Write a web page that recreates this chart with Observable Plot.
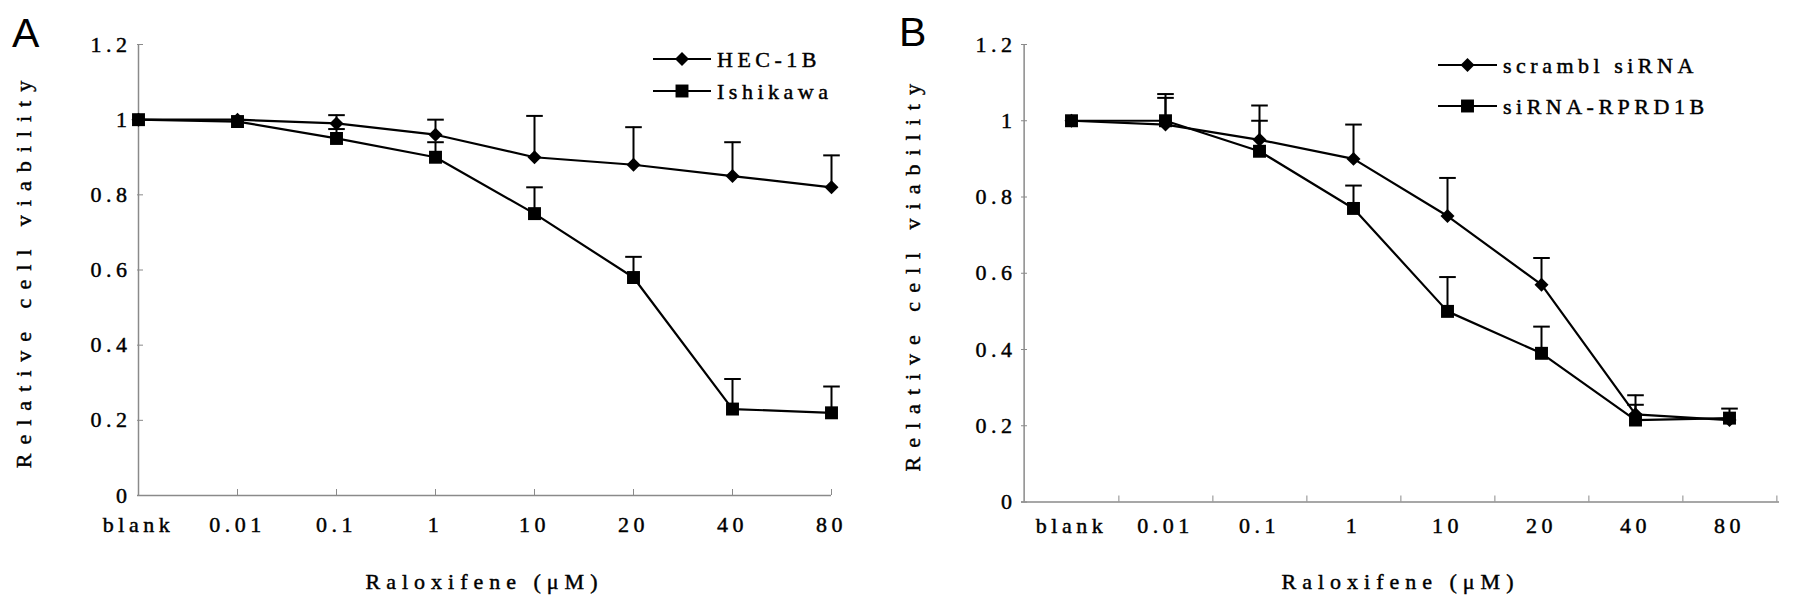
<!DOCTYPE html>
<html>
<head>
<meta charset="utf-8">
<script src="https://cdn.jsdelivr.net/npm/d3@7"></script>
<script src="https://cdn.jsdelivr.net/npm/@observablehq/plot@0.6"></script>
<style>
  body { margin: 0; background: #fff; }
  #figure { position: relative; width: 1795px; height: 609px; overflow: hidden; background: #fff; }
  #figure > div, #figure > svg { position: absolute; top: 0; }
  .panel svg text { letter-spacing: 4.5px; stroke: black; stroke-width: 0.45px; }
  .panel g[aria-label="y-axis label"] text { letter-spacing: 9px; }
  .panel g[aria-label="x-axis label"] text { letter-spacing: 6px; }
  #overlay { pointer-events: none; }
  #overlay .legend-text { font-family: "Liberation Serif", "DejaVu Serif", serif; font-size: 22px; letter-spacing: 4.5px; stroke: black; stroke-width: 0.45px; }
  #overlay .panel-letter { font-family: "Liberation Sans", Arial, sans-serif; font-size: 41px; }
</style>
</head>
<body>
<div id="figure">
  <div id="panel-a" class="panel" style="left:0px"></div>
  <div id="panel-b" class="panel" style="left:900px"></div>
</div>
<script>
// doses on the x axis (same for both panels)
const doses = ["blank", "0.01", "0.1", "1", "10", "20", "40", "80"];
const yTicks = [0, 0.2, 0.4, 0.6, 0.8, 1, 1.2];
const xTitle = "Raloxifene (μM)";
const yTitle = "Relative cell viability";

// panel A
const seriesA = ["HEC-1B", "Ishikawa"];
const hecMean = [1.00, 1.00, 0.99, 0.96, 0.90, 0.88, 0.85, 0.82];
const hecErr = [0, 0, 0.022, 0.04, 0.11, 0.10, 0.09, 0.085];
const ishMean = [1.00, 0.995, 0.95, 0.90, 0.75, 0.58, 0.23, 0.22];
const ishErr = [0, 0, 0.025, 0.04, 0.07, 0.055, 0.08, 0.07];

// panel B
const seriesB = ["scrambl siRNA", "siRNA-RPRD1B"];
const scrMean = [1.00, 0.99, 0.95, 0.90, 0.75, 0.57, 0.23, 0.215];
const scrErr = [0, 0.08, 0.09, 0.09, 0.10, 0.07, 0.05, 0];
const rpdMean = [1.00, 1.00, 0.92, 0.77, 0.50, 0.39, 0.215, 0.22];
const rpdErr = [0, 0.06, 0.08, 0.06, 0.09, 0.07, 0.04, 0.025];

const axisGray = "#8a8a8a";
const font = '"Liberation Serif", "DejaVu Serif", serif';

// flat horizontal stroke, used for the error bar caps
const capSymbol = {
    draw(context, size) {
        const w = Math.sqrt(size / Math.PI);
        context.moveTo(-w, 0);
        context.lineTo(w, 0);
    }
};

const toRows = (name, marker, means, errs) =>
    doses.map((dose, i) => ({series: name, marker, dose, v: means[i], err: errs[i], top: means[i] + errs[i]}));

const seriesMarks = (rows) => {
    const withErr = rows.filter(d => d.err > 0);
    return [
        Plot.line(rows, {x: "dose", y: "v", z: "series", stroke: "black", strokeWidth: 2.2}),
        Plot.ruleX(withErr, {x: "dose", y1: "v", y2: "top", stroke: "black", strokeWidth: 2}),
        Plot.dot(withErr, {x: "dose", y: "top", symbol: capSymbol, r: 8.3, stroke: "black", strokeWidth: 2, fill: "none"}),
        Plot.dot(rows.filter(d => d.marker === "diamond"), {x: "dose", y: "v", symbol: "diamond2", r: 6.3, fill: "black"}),
        Plot.dot(rows.filter(d => d.marker === "square"), {x: "dose", y: "v", symbol: "square", r: 7.3, fill: "black"})
    ];
};

const rowsA = [...toRows(seriesA[0], "diamond", hecMean, hecErr), ...toRows(seriesA[1], "square", ishMean, ishErr)];
const rowsB = [...toRows(seriesB[0], "diamond", scrMean, scrErr), ...toRows(seriesB[1], "square", rpdMean, rpdErr)];

const baseStyle = {fontFamily: font, fontSize: "22px", color: "black", background: "white", overflow: "visible"};

// Panel A: points sit on the tick marks, first one on the y axis
const chartA = Plot.plot({
    width: 900,
    height: 609,
    marginLeft: 137,
    marginRight: 69,
    marginTop: 44,
    marginBottom: 114,
    style: baseStyle,
    x: {type: "point", domain: doses, padding: 0},
    y: {domain: [0, 1.2]},
    marks: [
        Plot.ruleY([0], {stroke: axisGray, strokeWidth: 1.5}),
        Plot.ruleX([doses[0]], {stroke: axisGray, strokeWidth: 1.5}),
        Plot.axisY(yTicks, {tickSize: -6, stroke: axisGray, fill: "none", label: null}),
        Plot.axisY(yTicks, {tickSize: 0, tickPadding: 6, tickFormat: d => String(d), label: yTitle, labelArrow: "none", labelAnchor: "center", labelOffset: 122}),
        Plot.axisX(doses.slice(1), {tickSize: -6, stroke: axisGray, fill: "none", label: null}),
        Plot.axisX(doses, {tickSize: 0, tickPadding: 21, label: xTitle, labelArrow: "none", labelAnchor: "center", labelOffset: 93}),
        ...seriesMarks(rowsA)
    ]
});
document.getElementById("panel-a").append(chartA);

// Panel B: points sit between the tick marks
const widthB = 895, mlB = 121, mrB = 16;
const stepB = (widthB - mlB - mrB) / doses.length;
const chartB = Plot.plot({
    width: widthB,
    height: 609,
    marginLeft: mlB,
    marginRight: mrB,
    marginTop: 44,
    marginBottom: 107.5,
    style: baseStyle,
    x: {type: "point", domain: doses, padding: 0.5},
    y: {domain: [0, 1.2]},
    marks: [
        Plot.ruleY([0], {stroke: axisGray, strokeWidth: 1.5}),
        Plot.ruleX([doses[0]], {dx: -stepB / 2, stroke: axisGray, strokeWidth: 1.5}),
        Plot.axisY(yTicks, {tickSize: -6, stroke: axisGray, fill: "none", label: null}),
        Plot.axisY(yTicks, {tickSize: 0, tickPadding: 5, tickFormat: d => String(d), label: yTitle, labelArrow: "none", labelAnchor: "center", labelOffset: 117}),
        Plot.axisX(doses, {tickSize: -6, dx: stepB / 2, stroke: axisGray, fill: "none", label: null}),
        Plot.axisX(doses, {tickSize: 0, tickPadding: 15, label: xTitle, labelArrow: "none", labelAnchor: "center", labelOffset: 87}),
        ...seriesMarks(rowsB)
    ]
});
document.getElementById("panel-b").append(chartB);

// legends and panel letters on top
const overlay = d3.select("#figure").append("svg")
    .attr("id", "overlay")
    .attr("width", 1795)
    .attr("height", 609)
    .style("left", "0px");

const addLegend = (names, x0, x1, xText, rowsY) => {
    const shapes = [
        d3.symbol(d3.symbolDiamond2, 6.3 * 6.3 * Math.PI),
        d3.symbol(d3.symbolSquare, 7.3 * 7.3 * Math.PI)
    ];
    names.forEach((name, i) => {
        const g = overlay.append("g");
        g.append("line").attr("x1", x0).attr("x2", x1).attr("y1", rowsY[i]).attr("y2", rowsY[i])
            .attr("stroke", "black").attr("stroke-width", 2.2);
        g.append("path").attr("d", shapes[i]()).attr("transform", `translate(${(x0 + x1) / 2},${rowsY[i]})`);
        g.append("text").attr("class", "legend-text").attr("x", xText).attr("y", rowsY[i])
            .attr("dy", "0.35em").text(name);
    });
};
addLegend(seriesA, 653, 711, 717, [59, 91]);
addLegend(seriesB, 1438, 1497, 1503, [65, 106]);

overlay.append("text").attr("class", "panel-letter").attr("x", 12).attr("y", 47).text("A");
overlay.append("text").attr("class", "panel-letter").attr("x", 899).attr("y", 46).text("B");
</script>
</body>
</html>
